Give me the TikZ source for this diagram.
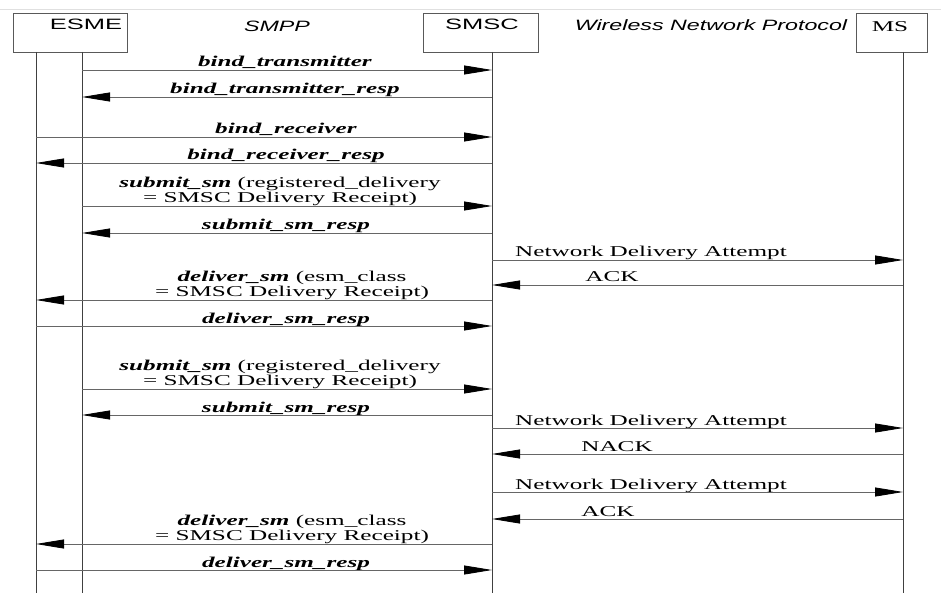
\documentclass[tikz,border=0pt]{standalone}
\usepackage{fontspec}
\setmainfont{Liberation Serif}[FakeStretch=1.68]
\newfontfamily\hdfont{Liberation Sans}[FakeStretch=1.7]
\newfontfamily\hdfontit{Liberation Sans Italic}[FakeStretch=1.55]
\usetikzlibrary{arrows.meta}
\newcommand{\msgname}[1]{\textbf{\textit{#1}}}

\begin{document}
\begin{tikzpicture}[
  x=1pt, y=-1pt,
  font=\fontsize{15}{12}\selectfont,
  hdbox/.style={draw=black!65, line width=0.8pt, anchor=north west, inner sep=0pt},
  hdtext/.style={font=\hdfont\fontsize{15}{15}\selectfont, anchor=base, inner sep=0pt},
  hdproto/.style={font=\hdfontit\fontsize{15}{15}\selectfont, anchor=base, inner sep=0pt},
  life/.style={draw=black!75, line width=0.9pt},
  msgarr/.style={draw=black!60, line width=0.8pt, -{Triangle[length=28pt,width=9pt,color=black]}},
  lbl/.style={anchor=base, inner sep=0pt},
  lbltwo/.style={anchor=south, inner sep=0pt, align=center},
]
\useasboundingbox (0,0) rectangle (941,593);
\draw[black!12, line width=0.8pt] (0,9) -- (941,9);

%====================== HEADERS ======================
\node[hdbox, minimum width=114pt, minimum height=39pt] (esme) at (13,13) {};
\node[hdbox, minimum width=115pt, minimum height=39pt] (smsc) at (423,13) {};
\node[hdbox, minimum width=71pt,  minimum height=39pt] (ms)   at (856,13) {};
\node[hdtext] (esmet) at (86,30)  {ESME};
\node[hdtext] (smsct) at (482,30) {SMSC};
\node[lbl]    (mst)   at (890,32) {MS};
\node[hdproto] (smpp) at (277,32) {SMPP};
\node[hdproto] (wnp)  at (711,31) {Wireless Network Protocol};

%====================== LIFELINES ======================
\coordinate (rx) at (36,52);
\coordinate (tx) at (82,52);
\coordinate (sx) at (492,52);
\coordinate (mx) at (903,52);
\draw[life] (rx) -- (rx |- 0,593);
\draw[life] (tx) -- (tx |- 0,593);
\draw[life] (sx) -- (sx |- 0,593);
\draw[life] (mx) -- (mx |- 0,593);

%====================== BIND ======================
\node[lbl] (l1) at (285,67)  {\msgname{bind\_transmitter}};
\draw[msgarr] (tx |- 0,70) -- (sx |- 0,70);
\node[lbl] (l2) at (285,94)  {\msgname{bind\_transmitter\_resp}};
\draw[msgarr] (sx |- 0,97) -- (tx |- 0,97);
\node[lbl] (l3) at (286,134) {\msgname{bind\_receiver}};
\draw[msgarr] (rx |- 0,137) -- (sx |- 0,137);
\node[lbl] (l4) at (286,160) {\msgname{bind\_receiver\_resp}};
\draw[msgarr] (sx |- 0,163) -- (rx |- 0,163);

%====================== FIRST SUBMIT (ACK) ======================
\node[lbltwo] (l5) at (280,206) {\msgname{submit\_sm} (registered\_delivery\\= SMSC Delivery Receipt)};
\draw[msgarr] (tx |- 0,206) -- (sx |- 0,206);
\node[lbl] (l6) at (286,230) {\msgname{submit\_sm\_resp}};
\draw[msgarr] (sx |- 0,233) -- (tx |- 0,233);
\node[lbl] (l7) at (651,257) {Network Delivery Attempt};
\draw[msgarr] (sx |- 0,260) -- (mx |- 0,260);
\node[lbl] (l8) at (612,282) {ACK};
\draw[msgarr] (mx |- 0,285) -- (sx |- 0,285);
\node[lbltwo] (l9) at (292,300) {\msgname{deliver\_sm} (esm\_class\\= SMSC Delivery Receipt)};
\draw[msgarr] (sx |- 0,300) -- (rx |- 0,300);
\node[lbl] (l10) at (286,323) {\msgname{deliver\_sm\_resp}};
\draw[msgarr] (rx |- 0,326) -- (sx |- 0,326);

%====================== SECOND SUBMIT (NACK, RETRY) ======================
\node[lbltwo] (l11) at (280,389) {\msgname{submit\_sm} (registered\_delivery\\= SMSC Delivery Receipt)};
\draw[msgarr] (tx |- 0,389) -- (sx |- 0,389);
\node[lbl] (l12) at (286,412) {\msgname{submit\_sm\_resp}};
\draw[msgarr] (sx |- 0,415) -- (tx |- 0,415);
\node[lbl] (l13) at (651,425) {Network Delivery Attempt};
\draw[msgarr] (sx |- 0,428) -- (mx |- 0,428);
\node[lbl] (l14) at (617,451) {NACK};
\draw[msgarr] (mx |- 0,454) -- (sx |- 0,454);
\node[lbl] (l15) at (651,489) {Network Delivery Attempt};
\draw[msgarr] (sx |- 0,492) -- (mx |- 0,492);
\node[lbl] (l16) at (608,516) {ACK};
\draw[msgarr] (mx |- 0,519) -- (sx |- 0,519);
\node[lbltwo] (l17) at (292,544) {\msgname{deliver\_sm} (esm\_class\\= SMSC Delivery Receipt)};
\draw[msgarr] (sx |- 0,544) -- (rx |- 0,544);
\node[lbl] (l18) at (286,567) {\msgname{deliver\_sm\_resp}};
\draw[msgarr] (rx |- 0,570) -- (sx |- 0,570);
\end{tikzpicture}
\end{document}
